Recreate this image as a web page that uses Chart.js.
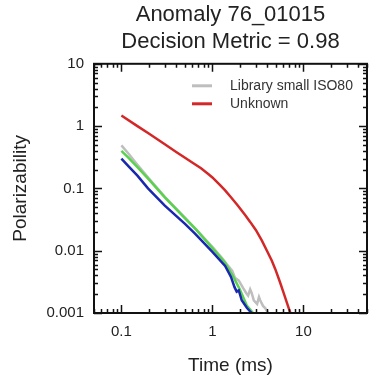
<!DOCTYPE html>
<html>
<head>
<meta charset="utf-8">
<script src="https://cdn.jsdelivr.net/npm/chart.js@4/dist/chart.umd.min.js"></script>
<style>
  html, body { margin: 0; padding: 0; background: #ffffff; }
  #wrap { width: 370px; height: 383px; }
</style>
</head>
<body>
<div id="wrap"><canvas id="c" width="370" height="383"></canvas></div>
<script>
// ---- Data ----
const titleLines = ["Anomaly 76_01015", "Decision Metric = 0.98"];
const xAxisTitle = "Time (ms)";
const yAxisTitle = "Polarizability";

const legendNames = ["Library small ISO80", "Unknown"];

// Library small ISO80 (gray)
const grayTime = [0.1, 0.12, 0.15, 0.2, 0.3, 0.5, 0.66, 1.0, 1.27, 1.45, 1.65, 1.77, 1.95, 2.18, 2.35, 2.47, 2.6, 2.7, 2.85, 3.1, 3.25, 3.35, 3.6, 3.8, 4.1];
const grayVals = [0.49, 0.36, 0.24, 0.145, 0.073, 0.034, 0.022, 0.0115, 0.0077, 0.006, 0.0048, 0.0037, 0.0033, 0.0025, 0.0021, 0.0019, 0.0024, 0.0021, 0.0016, 0.0014, 0.0018, 0.0016, 0.0013, 0.0012, 0.001];

// Unknown (red)
const redTime = [0.1, 0.15, 0.2, 0.3, 0.4, 0.5, 0.6, 0.75, 0.9, 1.0, 1.2, 1.38, 1.6, 1.9, 2.3, 2.6, 3.0, 3.5, 4.0, 4.5, 4.9, 5.5, 6.0, 6.5, 7.0, 7.2];
const redVals = [1.48, 1.0, 0.76, 0.51, 0.385, 0.31, 0.26, 0.21, 0.17, 0.15, 0.115, 0.093, 0.072, 0.053, 0.037, 0.029, 0.0215, 0.0145, 0.0098, 0.0069, 0.0051, 0.0032, 0.0022, 0.00155, 0.00112, 0.001];

// green curve
const greenTime = [0.1, 0.12, 0.15, 0.2, 0.3, 0.5, 0.66, 1.0, 1.38, 1.7, 2.0, 2.4, 2.8];
const greenVals = [0.40, 0.31, 0.22, 0.14, 0.072, 0.033, 0.022, 0.011, 0.0064, 0.0038, 0.0024, 0.0013, 0.001];

// blue curve
const blueTime = [0.1, 0.12, 0.15, 0.196, 0.3, 0.5, 0.64, 1.0, 1.38, 1.6, 1.75, 1.85, 1.95, 2.1, 2.4, 2.7];
const blueVals = [0.30, 0.225, 0.16, 0.10, 0.053, 0.027, 0.019, 0.0096, 0.0057, 0.0038, 0.0026, 0.0022, 0.0023, 0.0016, 0.0012, 0.001];

// axis ranges and ticks
const xMin = 0.05, xMax = 50;
const yMin = 0.001, yMax = 10;
const xMajorTicks = [0.1, 1, 10];
const xTickLabels = ["0.1", "1", "10"];
const xMinorTicks = [0.05,0.06,0.07,0.08,0.09,0.2,0.3,0.4,0.5,0.6,0.7,0.8,0.9,2,3,4,5,6,7,8,9,20,30,40,50];
const yMajorTicks = [0.001, 0.01, 0.1, 1, 10];
const yTickLabels = ["0.001", "0.01", "0.1", "1", "10"];
const yMinorTicks = [0.002,0.003,0.004,0.005,0.006,0.007,0.008,0.009,0.02,0.03,0.04,0.05,0.06,0.07,0.08,0.09,0.2,0.3,0.4,0.5,0.6,0.7,0.8,0.9,2,3,4,5,6,7,8,9];

// ---- helpers ----
const pts = (t, v) => t.map((x, i) => ({ x: x, y: v[i] }));
const FONT = "'Liberation Sans', Arial, Helvetica, sans-serif";
const TXT = '#222222';

const frameAndTicks = {
  id: 'frameAndTicks',
  afterDatasetsDraw(chart) {
    const ctx = chart.ctx, a = chart.chartArea;
    const xs = chart.scales.x, ys = chart.scales.y;
    ctx.save();
    ctx.strokeStyle = '#111111';
    ctx.lineWidth = 1.5;
    const tick = (vals, len) => {
      vals.forEach(v => {
        const px = Math.round(xs.getPixelForValue(v)) + 0.5;
        ctx.beginPath();
        ctx.moveTo(px, a.bottom); ctx.lineTo(px, a.bottom - len);
        ctx.moveTo(px, a.top); ctx.lineTo(px, a.top + len);
        ctx.stroke();
      });
    };
    const tickY = (vals, len) => {
      vals.forEach(v => {
        const py = Math.round(ys.getPixelForValue(v)) + 0.5;
        ctx.beginPath();
        ctx.moveTo(a.left, py); ctx.lineTo(a.left + len, py);
        ctx.moveTo(a.right, py); ctx.lineTo(a.right - len, py);
        ctx.stroke();
      });
    };
    tick(xMinorTicks, 4); tick(xMajorTicks, 8);
    tickY(yMinorTicks, 4); tickY(yMajorTicks, 8);
    ctx.lineWidth = 2;
    ctx.strokeRect(a.left, a.top, a.right - a.left, a.bottom - a.top);
    ctx.restore();
  }
};

const insideLegend = {
  id: 'insideLegend',
  afterDraw(chart) {
    const ctx = chart.ctx, a = chart.chartArea;
    ctx.save();
    ctx.font = '14px ' + FONT;
    ctx.textBaseline = 'middle';
    ctx.textAlign = 'left';
    legendNames.forEach((name, i) => {
      const ds = chart.data.datasets.find(d => d.label === name);
      const y = a.top + 22 + i * 18;
      const x0 = a.right - 175;
      ctx.strokeStyle = ds.borderColor;
      ctx.lineWidth = 3;
      ctx.beginPath();
      ctx.moveTo(x0, y); ctx.lineTo(x0 + 20, y);
      ctx.stroke();
      ctx.fillStyle = '#333333';
      ctx.fillText(name, x0 + 38, y);
    });
    ctx.restore();
  }
};

new Chart(document.getElementById('c'), {
  type: 'line',
  data: {
    datasets: [
      { label: 'Unknown', data: pts(redTime, redVals), borderColor: 'rgb(212,40,40)', borderWidth: 2.5, order: 1 },
      { label: '_blue', data: pts(blueTime, blueVals), borderColor: 'rgb(25,40,175)', borderWidth: 2.5, order: 2 },
      { label: '_green', data: pts(greenTime, greenVals), borderColor: 'rgb(90,210,80)', borderWidth: 2.5, order: 3 },
      { label: 'Library small ISO80', data: pts(grayTime, grayVals), borderColor: 'rgb(190,190,190)', borderWidth: 2.5, order: 4 }
    ]
  },
  options: {
    responsive: false,
    animation: false,
    devicePixelRatio: 1,
    layout: { padding: { left: 0, right: 3, top: 0, bottom: 0 } },
    elements: { point: { radius: 0 }, line: { tension: 0, fill: false } },
    plugins: {
      legend: { display: false },
      tooltip: { enabled: false },
      title: {
        display: true,
        fullSize: false,
        text: titleLines,
        color: TXT,
        font: { family: FONT, size: 22, weight: 'normal', lineHeight: 1.2 },
        padding: { top: 2, bottom: 9 }
      }
    },
    scales: {
      x: {
        type: 'logarithmic',
        min: xMin, max: xMax,
        position: 'bottom',
        grid: { display: false, drawTicks: false, tickLength: 0 },
        border: { display: false },
        afterBuildTicks(s) { s.ticks = xMajorTicks.map(v => ({ value: v })); },
        afterFit(s) { s.height = 70; },
        ticks: {
          autoSkip: false, maxRotation: 0,
          padding: 10,
          color: TXT,
          font: { family: FONT, size: 15 },
          callback: (v) => { const i = xMajorTicks.indexOf(v); return i >= 0 ? xTickLabels[i] : ''; }
        },
        title: {
          display: true, text: xAxisTitle, color: TXT,
          font: { family: FONT, size: 19 },
          padding: { top: 0, bottom: 6 }
        }
      },
      y: {
        type: 'logarithmic',
        min: yMin, max: yMax,
        grid: { display: false, drawTicks: false, tickLength: 0 },
        border: { display: false },
        afterBuildTicks(s) { s.ticks = yMajorTicks.map(v => ({ value: v })); },
        afterFit(s) { s.width = 94; },
        ticks: {
          autoSkip: false,
          padding: 10,
          color: TXT,
          font: { family: FONT, size: 15 },
          callback: (v) => { const i = yMajorTicks.indexOf(v); return i >= 0 ? yTickLabels[i] : ''; }
        },
        title: {
          display: true, text: yAxisTitle, color: TXT,
          font: { family: FONT, size: 19 },
          padding: { top: 9, bottom: 0 }
        }
      }
    }
  },
  plugins: [frameAndTicks, insideLegend]
});
</script>
</body>
</html>
